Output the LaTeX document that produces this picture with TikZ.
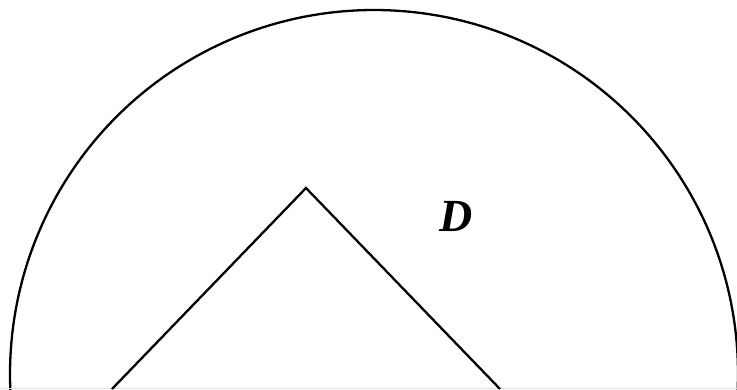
\documentclass[tikz,border=0pt]{standalone}
\usepackage{fontspec}
\setmainfont{Liberation Serif}
\begin{document}
\begin{tikzpicture}[x=1pt,y=1pt,
  edge/.style={line width=2.3pt,line join=miter},
  lbl/.style={font=\fontsize{46}{46}\selectfont\bfseries\itshape,inner sep=0pt}]
\useasboundingbox (0,0) rectangle (737,389);
\begin{scope}
\clip (0,0) rectangle (737,389);
\coordinate (c) at (374,15);
\draw[edge] (c) ++(-2.5:364) arc[start angle=-2.5,end angle=182.5,radius=364];
\draw[black!12,line width=1pt] (0,0.6) -- (737,0.6);
\end{scope}
\coordinate (a) at (306,201);
\coordinate (l) at (112,0);
\coordinate (r) at (500,0);
\draw[edge] (l) -- (a) -- (r);
\node[lbl] (D) at (456,173) {D};
\end{tikzpicture}
\end{document}
